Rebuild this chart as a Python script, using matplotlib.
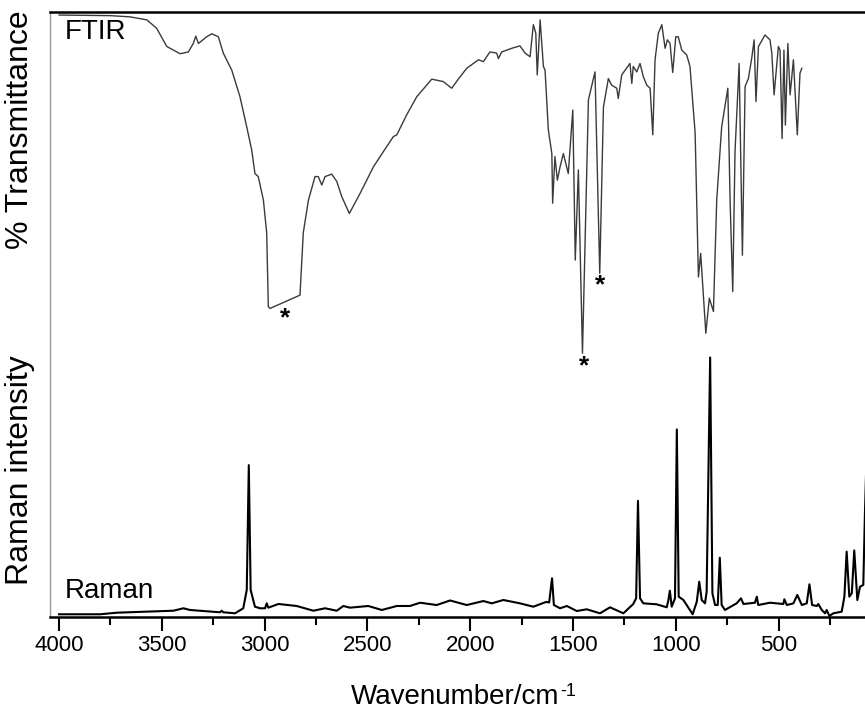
import matplotlib
matplotlib.use("Agg")
import matplotlib.pyplot as plt
from matplotlib.ticker import MultipleLocator

plt.rcParams['font.family'] = ['Liberation Sans', 'DejaVu Sans']
plt.rcParams['mathtext.fontset'] = 'custom'
plt.rcParams['mathtext.rm'] = 'Liberation Sans'
plt.rcParams['mathtext.it'] = 'Liberation Sans'

# FTIR spectrum (wavenumber cm-1, relative transmittance, arbitrary units)
ftir_wn = [4000, 3752, 3655, 3573, 3525, 3476, 3411, 3371, 3347, 3335, 3322, 3282, 3257, 3225,
           3201, 3160, 3120, 3087, 3063, 3047, 3031, 3006, 2990, 2982, 2974, 2828, 2812, 2787,
           2755, 2739, 2722, 2706, 2674, 2649, 2625, 2588, 2536, 2471, 2423, 2374, 2357, 2309,
           2260, 2187, 2131, 2090, 2058, 2017, 1960, 1936, 1904, 1871, 1863, 1847, 1798, 1758,
           1733, 1709, 1693, 1681, 1674, 1660, 1644, 1636, 1620, 1603, 1599, 1588, 1576, 1563,
           1547, 1523, 1501, 1489, 1474, 1454, 1425, 1393, 1370, 1352, 1328, 1312, 1287, 1280,
           1263, 1223, 1214, 1207, 1190, 1174, 1158, 1141, 1125, 1112, 1101, 1085, 1068, 1052,
           1041, 1028, 1015, 1000, 988, 971, 947, 931, 906, 890, 879, 854, 837, 817, 801, 777,
           747, 736, 723, 712, 692, 676, 663, 647, 631, 619, 610, 598, 566, 542, 533, 522, 501,
           493, 483, 474, 467, 455, 444, 428, 409, 396, 387]
ftir_val = [99.5, 99.4, 99.2, 98.7, 97.3, 94.3, 93.1, 93.4, 94.8, 96.0, 94.8, 95.9, 96.4, 95.9,
            93.2, 90.4, 86.0, 81.0, 77.2, 73.3, 72.8, 68.9, 63.5, 51.3, 51.0, 53.2, 63.5, 68.9,
            72.8, 72.8, 71.4, 72.8, 73.2, 72.0, 69.5, 66.7, 70.0, 74.4, 76.9, 79.4, 79.7, 83.0,
            86.0, 88.9, 88.5, 87.4, 88.9, 90.7, 92.1, 91.8, 93.4, 93.2, 92.3, 93.4, 94.0, 94.4,
            93.2, 92.6, 97.9, 96.5, 89.6, 98.7, 91.0, 90.4, 80.5, 76.6, 68.4, 76.1, 72.2, 74.4,
            76.6, 73.3, 83.8, 59.0, 73.9, 43.6, 85.5, 90.1, 56.8, 84.3, 89.0, 87.9, 87.4, 85.7,
            89.6, 91.5, 88.2, 91.0, 90.1, 91.5, 89.3, 87.9, 87.4, 79.7, 92.1, 96.5, 97.9, 94.0,
            95.4, 94.8, 90.0, 95.9, 95.9, 93.7, 92.9, 91.0, 80.0, 56.2, 60.1, 46.9, 52.7, 50.5,
            68.9, 81.0, 87.4, 68.9, 53.8, 76.9, 91.5, 59.8, 87.7, 89.0, 92.3, 95.4, 85.2, 94.3,
            96.2, 95.4, 93.2, 86.3, 94.3, 93.7, 79.1, 93.7, 81.3, 94.8, 86.3, 92.1, 79.7, 89.9,
            90.7]

# Raman spectrum (wavenumber cm-1, intensity, arbitrary units)
raman_wn = [4000, 3801, 3719, 3444, 3395, 3363, 3217, 3209, 3201, 3144, 3104, 3087, 3077, 3068,
            3047, 3022, 2998, 2990, 2982, 2933, 2844, 2763, 2706, 2649, 2617, 2585, 2496, 2430,
            2357, 2293, 2244, 2163, 2098, 2017, 1936, 1895, 1839, 1758, 1693, 1630, 1616, 1602,
            1593, 1563, 1530, 1482, 1433, 1369, 1320, 1255, 1207, 1193, 1184, 1174, 1158, 1093,
            1044, 1036, 1029, 1020, 1004, 995, 986, 963, 918, 898, 886, 874, 858, 850, 833, 822,
            809, 796, 786, 777, 761, 704, 683, 671, 615, 606, 599, 542, 477, 472, 460, 428, 409,
            387, 363, 350, 337, 314, 307, 290, 274, 266, 253, 234, 193, 180, 169, 156, 144, 132,
            117, 104, 88, 80, 70]
raman_val = [0.45, 0.45, 0.71, 1.04, 1.44, 1.16, 0.78, 1.04, 0.78, 0.61, 1.44, 4.46, 25.1, 4.46,
             1.70, 1.44, 1.44, 2.26, 1.54, 2.15, 1.82, 1.04, 1.44, 1.04, 1.82, 1.54, 1.82, 1.16,
             1.82, 1.82, 2.36, 1.98, 2.73, 1.98, 2.64, 2.26, 2.81, 2.26, 1.70, 2.50, 2.40, 6.40,
             1.98, 1.44, 1.82, 0.99, 1.27, 0.61, 1.60, 0.61, 2.15, 3.09, 19.2, 3.09, 2.26, 2.10,
             1.60, 2.81, 4.35, 1.70, 3.09, 31.0, 3.36, 2.81, 0.45, 2.53, 5.83, 2.81, 2.26, 4.18,
             42.9, 3.92, 1.98, 1.98, 9.80, 1.98, 1.16, 2.26, 3.09, 2.15, 2.36, 3.36, 1.98, 2.36,
             2.15, 2.93, 1.98, 2.26, 3.64, 1.98, 2.26, 5.40, 1.98, 1.82, 2.15, 1.16, 0.61, 1.16,
             0.17, 0.61, 0.88, 3.36, 10.8, 3.36, 3.92, 11.0, 2.81, 5.0, 5.3, 17.2, 29.3]

# Marked bands (asterisks)
star_wn = [2901, 1446, 1369]
star_val = [49.4, 41.4, 54.9]

fig = plt.figure(figsize=(8.65, 7.19), dpi=100)
ax = fig.add_axes([50 / 865, 102 / 719, 817 / 865, 605 / 719])

ax.plot(ftir_wn, ftir_val, color='#3a3a3a', lw=1.0)
ax.plot(raman_wn, raman_val, color='black', lw=1.5)

for w, v in zip(star_wn, star_val):
    ax.text(w, v, '*', ha='center', va='center', fontsize=19, fontweight='bold', color='black')

ax.text(3970, 95.5, 'FTIR', fontsize=20, ha='left', va='baseline')
ax.text(3970, 3.2, 'Raman', fontsize=20, ha='left', va='baseline')

ax.set_xlim(4044, 70)
ax.set_ylim(0, 100)
ax.xaxis.set_major_locator(MultipleLocator(500))
ax.xaxis.set_minor_locator(MultipleLocator(250))
ax.set_yticks([])
ax.tick_params(axis='x', which='major', direction='out', length=10, width=1.5,
               labelsize=16, pad=3)
ax.tick_params(axis='x', which='minor', direction='out', length=6, width=1.5)
for s in ['top', 'bottom']:
    ax.spines[s].set_linewidth(1.8)
ax.spines['left'].set_linewidth(1.0)
ax.spines['left'].set_color('#999999')
ax.spines['right'].set_visible(False)

fig.text(20 / 865, 1 - 130 / 719, '% Transmittance', rotation=90, ha='center', va='center',
         fontsize=23)
fig.text(20 / 865, 1 - 470 / 719, 'Raman intensity', rotation=90, ha='center', va='center',
         fontsize=23)
xl = fig.text(455 / 865, 1 - 697 / 719, 'Wavenumber/cm', ha='center', va='center',
              fontsize=20)
ax.annotate('-1', xy=(1.0, 1.0), xycoords=xl, xytext=(1, 1), textcoords='offset points',
            ha='left', va='top', fontsize=13, annotation_clip=False)

fig.savefig('out.png', dpi=100)
